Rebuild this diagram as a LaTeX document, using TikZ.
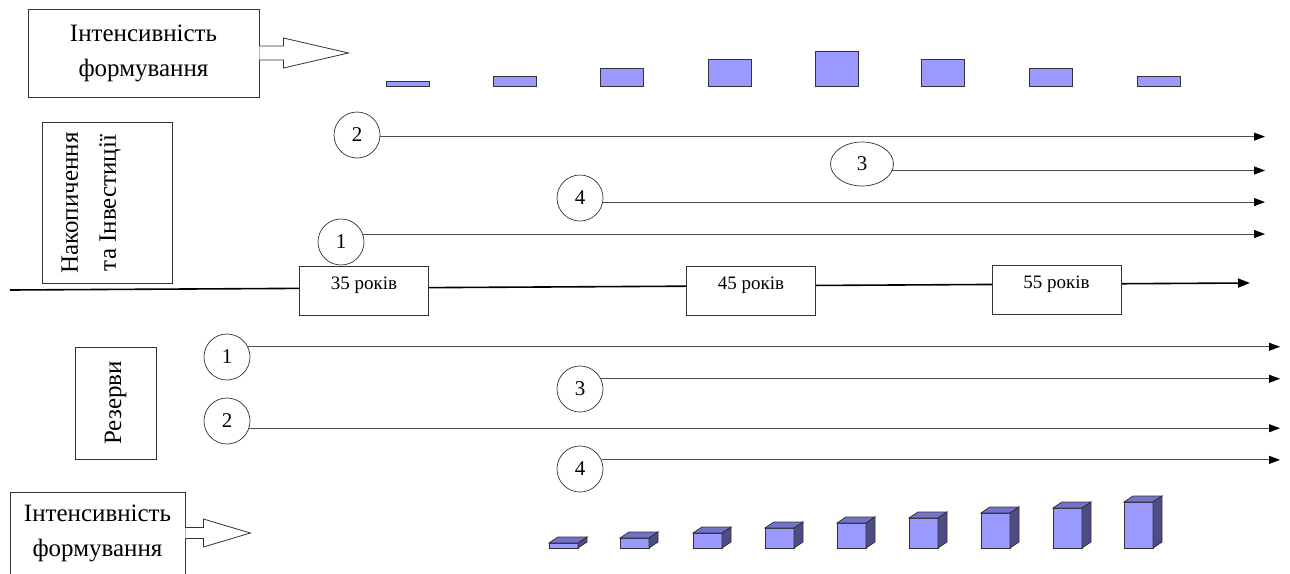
\documentclass[tikz,border=0pt]{standalone}
\usepackage{fontspec}
\setmainfont{Liberation Serif}
\usetikzlibrary{arrows.meta}
\usetikzlibrary{shapes}

\definecolor{barfill}{HTML}{9999FF}
\definecolor{bartop}{HTML}{7373CC}
\definecolor{barside}{HTML}{4D4D85}
\definecolor{edge}{HTML}{333333}

\newcommand{\solidbar}[2]{%
\draw[bar] (#1,548) rectangle ++(29,-#2);
\draw[bar, fill=bartop] (#1,548-#2) -- ++(29,0) -- ++(9,-6) -- ++(-29,0) -- cycle;
\draw[bar, fill=barside] (#1+29,548) -- ++(0,-#2) -- ++(9,-6) -- ++(0,#2) -- cycle;
}

\begin{document}
\begin{tikzpicture}[x=1pt, y=-1pt]
\tikzstyle{callout}=[draw=edge, line width=0.8pt, align=center, font=\fontsize{25}{35}\selectfont]
\tikzstyle{sidebox}=[shape=rectangle, draw=edge, line width=0.8pt, inner sep=0pt]
\tikzstyle{sidetext}=[align=center, rotate=90, font=\fontsize{25}{38}\selectfont]
\tikzstyle{agebox}=[shape=rectangle, draw=edge, line width=0.8pt, fill=white, minimum width=129pt, minimum height=49pt, text height=20pt, text depth=23pt, inner sep=0pt, font=\fontsize{19}{22}\selectfont]
\tikzstyle{stage}=[shape=circle, draw=edge, line width=0.7pt, fill=white, minimum size=46pt, inner sep=0pt, font=\fontsize{21}{24}\selectfont]
\tikzstyle{flow}=[draw=black!70, line width=0.8pt, -{Triangle[length=11pt, width=8pt, color=black]}]
\tikzstyle{axis}=[draw=black, line width=1.6pt, -{Triangle[length=12pt, width=9pt]}]
\tikzstyle{bar}=[draw=edge, line width=0.8pt, fill=barfill]
\tikzstyle{pointer}=[draw=edge, line width=0.8pt, fill=white]
\path[use as bounding box, fill=white] (0,0) rectangle (1290,573);
\node[callout, minimum width=231pt, minimum height=88pt] (topcall) at (143.5,53) {Інтенсивність\\формування};
\draw[pointer] (topcall.east) ++(0,-7) -- ++(24,0) -- ++(0,-8) -- ++(65,15) -- ++(-65,15) -- ++(0,-8) -- ++(-24,0);
\draw[bar] (386,86) rectangle (429,81);
\draw[bar] (493,86) rectangle (536,76);
\draw[bar] (600,86) rectangle (643,68);
\draw[bar] (708,86) rectangle (751,59);
\draw[bar] (815,86) rectangle (858,51);
\draw[bar] (921,86) rectangle (964,59);
\draw[bar] (1029,86) rectangle (1072,68);
\draw[bar] (1137,86) rectangle (1180,76);
\node[sidebox, minimum width=130pt, minimum height=161pt] (accbox) at (107,202.5) {};
\node[sidetext] (acctxt) at (91,203) {Накопичення\\та Інвестиції};
\coordinate (ru) at (1265,0);
\coordinate (rl) at (1280,0);
\node[stage] (u2) at (357,135) {2};
\node[stage, shape=ellipse, minimum width=63pt, minimum height=44pt] (u3) at (862,164) {3};
\node[stage] (u4) at (580,198) {4};
\node[stage] (u1) at (341,242) {1};
\draw[flow] (u2.-4) -- (u2.-4 -| ru);
\draw[flow] (u3.-12) -- (u3.-12 -| ru);
\draw[flow] (u4.-10) -- (u4.-10 -| ru);
\draw[flow] (u1.20) -- (u1.20 -| ru);
\coordinate (ax0) at (10,290);
\coordinate (ax1) at (1250,283);
\draw[axis] (ax0) -- (ax1);
\node[agebox] (a35) at (364,290.5) {35 років};
\node[agebox] (a45) at (751,290.5) {45 років};
\node[agebox] (a55) at (1056.5,290) {55 років};
\node[sidebox, rotate=90, minimum width=112pt, minimum height=81pt, font=\fontsize{25}{30}\selectfont] (resbox) at (115.5,403) {Резерви};
\node[stage] (l1) at (227,357) {1};
\node[stage] (l3) at (580,389) {3};
\node[stage] (l2) at (227,421) {2};
\node[stage] (l4) at (580,469) {4};
\draw[flow] (l1.26) -- (l1.26 -| rl);
\draw[flow] (l3.26) -- (l3.26 -| rl);
\draw[flow] (l2.-18) -- (l2.-18 -| rl);
\draw[flow] (l4.23) -- (l4.23 -| rl);
\node[callout, minimum width=175pt, minimum height=82pt] (botcall) at (97.5,533) {Інтенсивність\\формування};
\draw[pointer] (botcall.east) ++(0,-5.5) -- ++(18,0) -- ++(0,-8.5) -- ++(47,14) -- ++(-47,14) -- ++(0,-8.5) -- ++(-18,0);
\solidbar{549}{5}
\solidbar{620}{10}
\solidbar{693}{15}
\solidbar{765}{20}
\solidbar{837}{25}
\solidbar{909}{30}
\solidbar{981}{35}
\solidbar{1053}{40}
\solidbar{1124}{46}
\end{tikzpicture}
\end{document}
